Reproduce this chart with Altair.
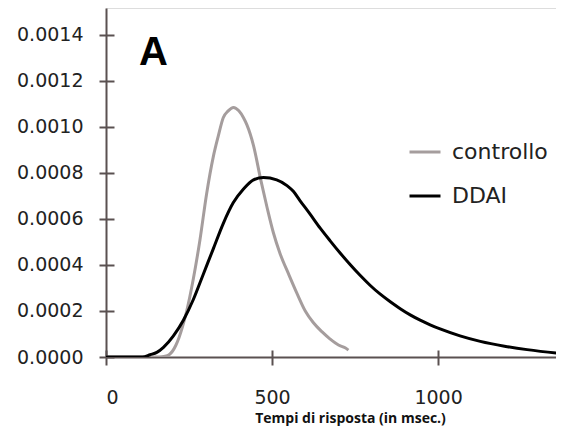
import altair as alt
import pandas as pd

# controllo curve (ms, density)
ctrl_x = [0, 160, 178, 190, 200, 210, 220, 230, 243, 263, 283, 303, 323, 338, 353, 368, 384, 400, 414, 424, 444, 466, 485, 504, 524, 550, 574, 600, 624, 650, 675, 700, 720, 730]
ctrl_y = [0, 0, 0.000003, 0.00001, 0.000025, 0.00005, 0.000085, 0.00013, 0.0002, 0.00034, 0.00051, 0.00071, 0.00087, 0.00096, 0.00104, 0.00107, 0.001085, 0.00107, 0.00104, 0.00101, 0.00092, 0.00077, 0.00065, 0.00054, 0.00045, 0.00036, 0.00028, 0.0002, 0.00015, 0.00011, 0.000078, 0.000052, 0.00004, 0.00003]

# DDAI curve (ms, density)
ddai_x = [0, 110, 133, 153, 173, 203, 233, 263, 293, 323, 353, 383, 414, 444, 474, 514, 545, 564, 584, 614, 645, 675, 705, 735, 765, 795, 825, 856, 886, 916, 946, 976, 1006, 1066, 1127, 1200, 1268, 1376, 1400]
ddai_y = [0, 0, 0.00001, 0.00002, 0.000042, 0.000092, 0.00016, 0.00025, 0.00036, 0.00047, 0.00058, 0.00067, 0.00073, 0.00077, 0.00078, 0.00077, 0.000745, 0.00072, 0.00068, 0.000622, 0.00056, 0.000505, 0.000452, 0.000402, 0.000355, 0.000312, 0.000274, 0.00024, 0.00021, 0.000183, 0.00016, 0.00014, 0.000122, 0.000092, 0.000068, 0.000047, 0.000032, 0.000015, 0.000012]

series = ["controllo", "DDAI"]
series_colors = ["#a59d9d", "#000000"]

x_ticks = [0, 500, 1000]
y_ticks = [0, 0.0002, 0.0004, 0.0006, 0.0008, 0.0010, 0.0012, 0.0014]

panel_label = ["A"]
panel_label_x = [99]
panel_label_y = [0.00127]

X_MAX = 1355
Y_MAX = 0.001517
PLOT_W = 450
PLOT_H = 349
AXIS_COLOR = "#5a5151"

df = pd.DataFrame(
    [{"t": x, "d": y, "gruppo": series[0], "o": i} for i, (x, y) in enumerate(zip(ctrl_x, ctrl_y))]
    + [{"t": x, "d": y, "gruppo": series[1], "o": i} for i, (x, y) in enumerate(zip(ddai_x, ddai_y))]
)

xs = alt.Scale(domain=[0, X_MAX], nice=False, zero=False)
ys = alt.Scale(domain=[0, Y_MAX], nice=False)

lines = alt.Chart(df).mark_line(interpolate="monotone", clip=True, strokeWidth=3).encode(
    x=alt.X("t:Q", scale=xs, axis=alt.Axis(
        values=x_ticks, format="d", ticks=True, tickSize=8, tickWidth=2, tickColor=AXIS_COLOR,
        labelPadding=23, grid=False,
        domainColor=AXIS_COLOR, domainWidth=2,
        labelFont="DejaVu Sans", labelFontSize=19, labelColor="#222222",
        title="Tempi di risposta (in msec.)", titleFont="Open Sans", titleFontSize=14,
        titleFontWeight="bold", titleColor="#111111", titleX=244, titleY=65,
        titleBaseline="alphabetic", titleAlign="center")),
    y=alt.Y("d:Q", scale=ys, axis=alt.Axis(
        values=y_ticks, format=".4f", ticks=True, tickSize=7, tickWidth=2, tickColor=AXIS_COLOR,
        labelPadding=16, grid=False,
        domainColor=AXIS_COLOR, domainWidth=2,
        labelFont="DejaVu Sans", labelFontSize=19, labelColor="#222222", title=None)),
    color=alt.Color("gruppo:N", scale=alt.Scale(domain=series, range=series_colors),
                    legend=alt.Legend(orient="none", legendX=302, legendY=127, title=None,
                                      symbolType="stroke", symbolSize=961, symbolStrokeWidth=3,
                                      labelFont="DejaVu Sans", labelFontSize=22, labelColor="#222222",
                                      labelOffset=10, rowPadding=16, padding=0)),
    order="o:Q",
)

# panel letter; its axes carry the inner halves of the crossing ticks
lab = alt.Chart(pd.DataFrame({"s": panel_label, "x": panel_label_x, "y": panel_label_y})).mark_text(
    font="Liberation Sans", fontSize=40, fontWeight="bold", align="left", baseline="alphabetic",
    color="#000000").encode(
    x=alt.X("x:Q", scale=xs, axis=alt.Axis(
        orient="top", offset=-PLOT_H, values=x_ticks, ticks=True, tickSize=7, tickWidth=2,
        tickColor=AXIS_COLOR, labels=False, domain=False, grid=False, title=None)),
    y=alt.Y("y:Q", scale=ys, axis=alt.Axis(
        orient="right", offset=-PLOT_W, values=y_ticks, ticks=True, tickSize=8, tickWidth=2,
        tickColor=AXIS_COLOR, labels=False, domain=False, grid=False, title=None)),
    text="s:N")

chart = alt.layer(lines, lab).resolve_axis(x="independent", y="independent").properties(
    width=PLOT_W, height=PLOT_H,
    autosize=alt.AutoSizeParams(type="none"),
    padding={"left": 98, "top": 0, "right": 0, "bottom": 71},
).configure_view(stroke=None).configure(background="white")

chart.save("out.html", embed_options={"renderer": "svg", "actions": False})
